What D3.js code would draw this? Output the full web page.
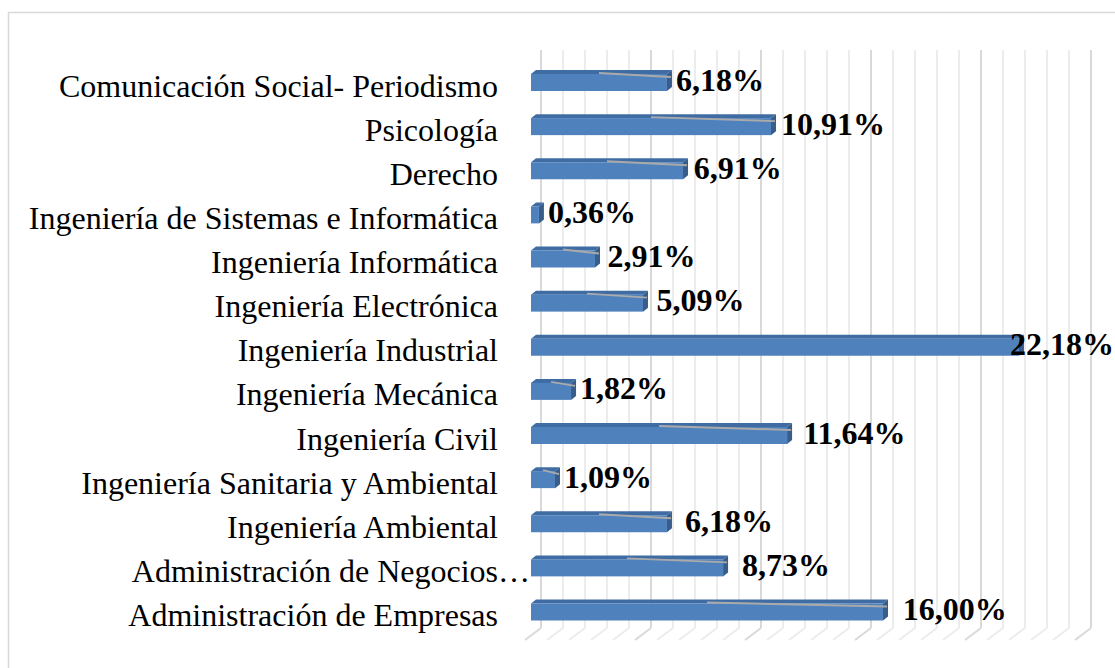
<!DOCTYPE html>
<html>
<head>
<meta charset="utf-8">
<script src="https://cdn.jsdelivr.net/npm/d3@7"></script>
<style>
  body { margin: 0; background: #fff; }
  svg { display: block; }
</style>
</head>
<body>
<svg id="chart" width="1115" height="668"></svg>
<script>
// categories top to bottom, as in the picture
var categories = [
    "Comunicación Social- Periodismo",
    "Psicología",
    "Derecho",
    "Ingeniería de Sistemas e Informática",
    "Ingeniería Informática",
    "Ingeniería Electrónica",
    "Ingeniería Industrial",
    "Ingeniería Mecánica",
    "Ingeniería Civil",
    "Ingeniería Sanitaria y Ambiental",
    "Ingeniería Ambiental",
    "Administración de Negocios…",
    "Administración de Empresas"
];
var values = [6.18, 10.91, 6.91, 0.36, 2.91, 5.09, 22.18, 1.82, 11.64, 1.09, 6.18, 8.73, 16.00];
var valueLabels = ["6,18%", "10,91%", "6,91%", "0,36%", "2,91%", "5,09%", "22,18%", "1,82%", "11,64%", "1,09%", "6,18%", "8,73%", "16,00%"];
var axisMax = 25;

var svg = d3.select("#chart");

var barX0 = 531;      // front face of the bars
var backX0 = 541;     // back wall
var floorX0 = 525;    // front edge of the floor
var gridTop = 50, floorBack = 628, floorFront = 640;
var barH = 17, depthX = 5, depthY = -4;
var labelMaxX = 1010;

var x = d3.scaleLinear().domain([0, axisMax]).range([0, 550]);
var y = d3.scalePoint().domain(categories).range([82.5, 612]);

var serif = "'Liberation Serif', 'Times New Roman', serif";

// outer border
svg.append("rect")
    .attr("x", 8.5).attr("y", 12.5)
    .attr("width", 1200).attr("height", 700)
    .attr("fill", "none")
    .attr("stroke", "#d9d9d9")
    .attr("stroke-width", 1.5);

// gridlines: back wall + floor
var ticks = x.ticks(axisMax);
var grid = svg.append("g").attr("class", "grid");
function gridColor(t) { return t % 5 === 0 ? "#d9d9d9" : "#ececec"; }

grid.selectAll("line.back")
    .data(ticks)
    .enter().append("line")
    .attr("class", "back")
    .attr("x1", function(d) { return backX0 + x(d); })
    .attr("x2", function(d) { return backX0 + x(d); })
    .attr("y1", gridTop)
    .attr("y2", floorBack)
    .attr("stroke", gridColor)
    .attr("stroke-width", 2);

grid.selectAll("line.floor")
    .data(ticks)
    .enter().append("line")
    .attr("class", "floor")
    .attr("x1", function(d) { return floorX0 + x(d); })
    .attr("y1", floorFront)
    .attr("x2", function(d) { return backX0 + x(d); })
    .attr("y2", floorBack)
    .attr("stroke", gridColor)
    .attr("stroke-width", 2);

// bars
var data = categories.map(function(c, i) {
    return { cat: c, v: values[i], label: valueLabels[i], i: i };
});

var bars = svg.selectAll("g.bar")
    .data(data)
    .enter().append("g")
    .attr("class", "bar");

bars.append("path")   // top face
    .attr("d", function(d) {
        var top = y(d.cat) - barH / 2, w = x(d.v);
        return "M" + barX0 + "," + top +
               "L" + (barX0 + w) + "," + top +
               "L" + (barX0 + w + depthX) + "," + (top + depthY) +
               "L" + (barX0 + depthX) + "," + (top + depthY) + "Z";
    })
    .attr("fill", "#3f6ca3");

bars.append("path")   // side face
    .attr("d", function(d) {
        var top = y(d.cat) - barH / 2, w = x(d.v);
        return "M" + (barX0 + w) + "," + top +
               "L" + (barX0 + w + depthX) + "," + (top + depthY) +
               "L" + (barX0 + w + depthX) + "," + (top + depthY + barH) +
               "L" + (barX0 + w) + "," + (top + barH) + "Z";
    })
    .attr("fill", "#385d8a");

bars.append("rect")   // front face
    .attr("x", barX0)
    .attr("y", function(d) { return y(d.cat) - barH / 2; })
    .attr("width", function(d) { return x(d.v); })
    .attr("height", barH)
    .attr("fill", "#4f81bd");

// labels sit a bit further out on the lower rows (perspective)
function labelX(d) {
    var gap = x(d.v) < 50 ? 9 : 9 + 0.9 * d.i;
    return Math.min(barX0 + x(d.v) + gap, labelMaxX);
}

// leader lines from the middle of the bar to the label
bars.filter(function(d) { return x(d.v) > 20 && labelX(d) < labelMaxX; })
    .append("path")
    .attr("d", function(d) {
        var top = y(d.cat) - barH / 2, w = x(d.v);
        return "M" + (barX0 + w / 2) + "," + (top - 1) +
               "L" + (barX0 + w + 4) + "," + (top + 3);
    })
    .attr("fill", "none")
    .attr("stroke", "#aaaaaa")
    .attr("stroke-width", 2);

// value labels
bars.append("text")
    .attr("x", labelX)
    .attr("y", function(d) { return y(d.cat) + 8; })
    .attr("font-family", serif)
    .attr("font-weight", "bold")
    .attr("font-size", "32px")
    .attr("fill", "#000")
    .text(function(d) { return d.label; });

// category labels
var catLabels = svg.append("g").attr("class", "cats");
catLabels.selectAll("text")
    .data(categories)
    .enter().append("text")
    .attr("x", 498)
    .attr("y", function(d) { return y(d) + 14; })
    .attr("text-anchor", "end")
    .attr("font-family", serif)
    .attr("font-size", "32px")
    .attr("fill", "#000")
    .text(function(d) { return d.replace("…", ""); });

// the truncated name keeps its ellipsis hanging past the edge
catLabels.selectAll("text.ell")
    .data(categories.filter(function(d) { return d.indexOf("…") >= 0; }))
    .enter().append("text")
    .attr("class", "ell")
    .attr("x", 498)
    .attr("y", function(d) { return y(d) + 14; })
    .attr("font-family", serif)
    .attr("font-size", "32px")
    .attr("fill", "#000")
    .text("…");
</script>
</body>
</html>
